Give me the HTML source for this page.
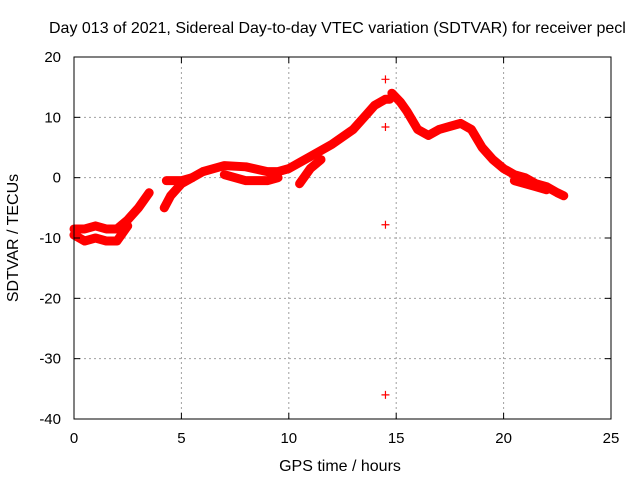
<!DOCTYPE html>
<html><head><meta charset="utf-8"><style>
body{margin:0;background:#fff;}
svg{display:block;font-family:"Liberation Sans",sans-serif;}
</style></head><body>
<svg id="chart" width="640" height="480" viewBox="0 0 640 480" xmlns="http://www.w3.org/2000/svg">
<rect width="640" height="480" fill="#fff"/>
<g id="grid"></g>
<g id="series"></g>
<rect x="74" y="57" width="537" height="362" fill="none" stroke="#000" stroke-width="1"/>
<g id="ticks"></g>
<text x="49" y="33" font-size="16">Day 013 of 2021, Sidereal Day-to-day VTEC variation (SDTVAR) for receiver pecl</text>
<text x="340" y="471" font-size="16" text-anchor="middle">GPS time / hours</text>
<text transform="translate(18,238) rotate(-90)" font-size="16" text-anchor="middle">SDTVAR / TECUs</text>
</svg>
<script>
const xTicks=[0,5,10,15,20,25];
const yTicks=[20,10,0,-10,-20,-30,-40];
const trackAHours=[0,0.5,1,1.5,2,2.5,3,3.5];
const trackAValues=[-8.5,-8.5,-8,-8.5,-8.5,-7,-5,-2.5];
const trackBHours=[4.3,5,5.5,6,7,8,9,9.5,10,10.5,11,12,13,13.5,14,14.5,14.7];
const trackBValues=[-0.5,-0.5,0,1,2,1.8,1,1,1.5,2.5,3.5,5.5,8,10,12,13,13];
const trackCHours=[14.8,15.2,15.5,16,16.5,17,17.5,18,18.5,19,19.5,20,20.5,21,21.5,22,22.5,22.8];
const trackCValues=[14,12.5,11,8,7,8,8.5,9,8,5,3,1.5,0.5,0,-1,-1.5,-2.5,-3];
const trackDHours=[0,0.5,1,1.5,2,2.5];
const trackDValues=[-9.5,-10.5,-10,-10.5,-10.5,-8];
const trackEHours=[4.2,4.5,5,5.5];
const trackEValues=[-5,-3,-1,0];
const trackFHours=[7,8,9,9.5];
const trackFValues=[0.5,-0.5,-0.5,0];
const trackGHours=[10.5,11,11.5];
const trackGValues=[-1,1.5,3];
const trackHHours=[20.5,21,21.5,22];
const trackHValues=[-0.5,-1,-1.5,-2];
const outlierHours=[14.5,14.5,14.5,14.5];
const outlierValues=[16.3,8.4,-7.8,-36];
const NS='http://www.w3.org/2000/svg';
const X=h=>74+h*537/25;
const Y=v=>57+(20-v)*362/60;
const grid=document.getElementById('grid'),ticks=document.getElementById('ticks'),ser=document.getElementById('series');
function mk(t,a,p){const e=document.createElementNS(NS,t);for(const k in a)e.setAttribute(k,a[k]);p.appendChild(e);return e;}
xTicks.forEach(t=>{const x=X(t);
 if(t>0&&t<25){const l=mk('line',{x1:x,x2:x,y1:57,y2:419,stroke:'#a0a0a0','stroke-dasharray':'2,3'},grid);
 
 }
 mk('line',{x1:x,x2:x,y1:419,y2:413,stroke:'#000'},ticks);mk('line',{x1:x,x2:x,y1:57,y2:63,stroke:'#000'},ticks);
 const tx=mk('text',{x:x,y:443,'font-size':15,'text-anchor':'middle'},ticks);tx.textContent=t;
 
 });
yTicks.forEach(t=>{const y=Y(t);
 if(t<20&&t>-40){const l=mk('line',{x1:74,x2:611,y1:y,y2:y,stroke:'#a0a0a0','stroke-dasharray':'2,3'},grid);
 
 }
 mk('line',{x1:74,x2:80,y1:y,y2:y,stroke:'#000'},ticks);mk('line',{x1:611,x2:605,y1:y,y2:y,stroke:'#000'},ticks);
 const tx=mk('text',{x:61,y:y+5,'font-size':15,'text-anchor':'end'},ticks);tx.textContent=t;
 
 });
[[trackAHours,trackAValues],[trackBHours,trackBValues],[trackCHours,trackCValues],[trackDHours,trackDValues],[trackEHours,trackEValues],[trackFHours,trackFValues],[trackGHours,trackGValues],[trackHHours,trackHValues]].forEach(([hs,vs])=>{
 const pts=hs.map((h,i)=>X(h)+','+Y(vs[i])).join(' ');
 const p=mk('polyline',{points:pts,fill:'none',stroke:'#f00','stroke-width':9,'stroke-linejoin':'round','stroke-linecap':'round'},ser);
 
 });
outlierHours.forEach((h,i)=>{const x=X(h),y=Y(outlierValues[i]);
 const p=mk('path',{d:`M${x-4},${y}H${x+4}M${x},${y-4}V${y+4}`,stroke:'#f00','stroke-width':1.2},ser);
 
 });
</script>
</body></html>
